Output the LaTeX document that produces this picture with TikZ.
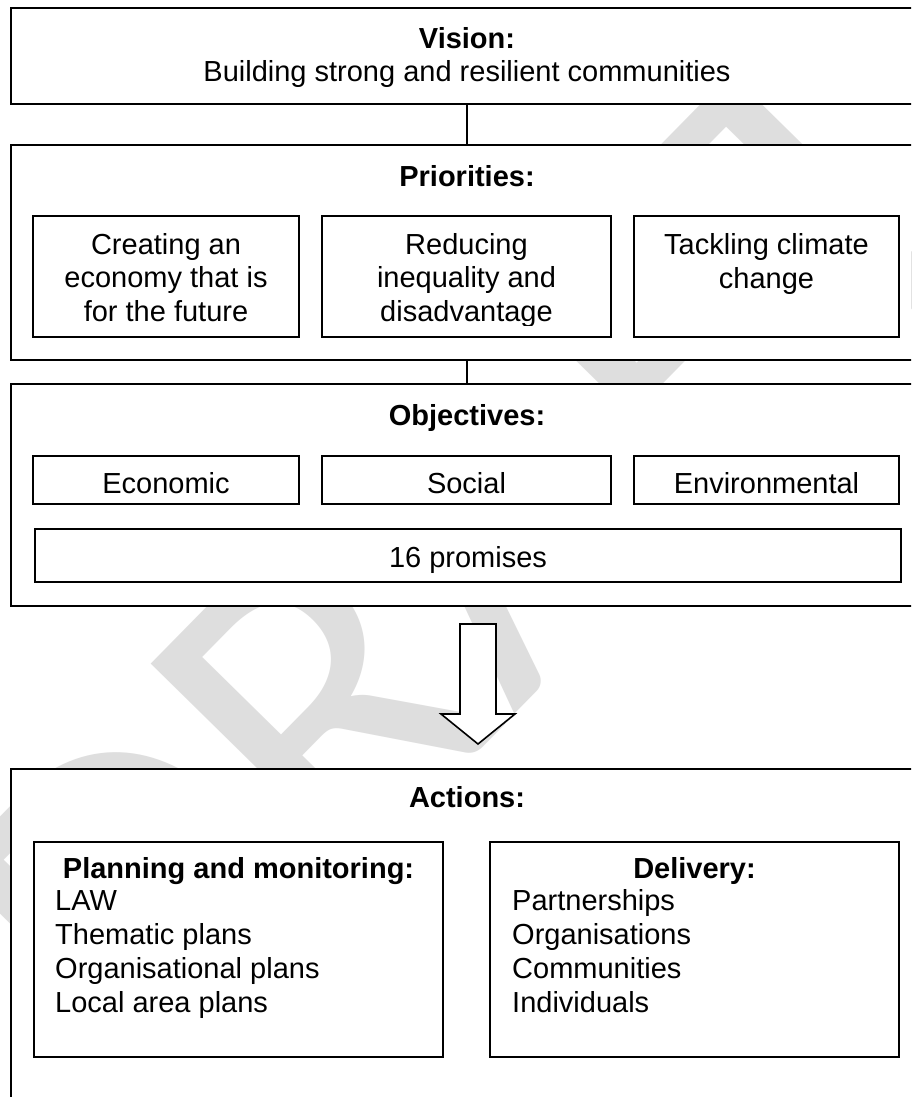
\documentclass[tikz,border=0pt]{standalone}
\usepackage{fontspec}
\setmainfont{Liberation Sans}
\newfontfamily\wmfont{Carlito}
\begin{document}
\begin{tikzpicture}[x=1pt,y=-1pt,
  frame/.style={draw=black, fill=white, line width=1.8pt, inner sep=0pt, anchor=north west},
  inbox/.style={draw=black, fill=white, line width=1.8pt, inner sep=0pt},
  txt/.style={font=\fontsize{29}{33.5}\selectfont, inner sep=0pt, align=center, anchor=base},
  btxt/.style={font=\fontsize{29}{33.5}\selectfont\bfseries, inner sep=0pt, align=center, anchor=base},
  ltxt/.style={font=\fontsize{29}{34}\selectfont, inner sep=0pt, align=left, anchor=base west},
  link/.style={draw=black, line width=1.4pt},
  bigarrow/.style={draw=black, fill=white, line width=1.6pt, line join=miter},
  wm/.style={font=\wmfont\fontsize{460}{460}\selectfont, text=black!13, inner sep=0pt, rotate=45.5, anchor=base west}
]
\useasboundingbox (0,0) rectangle (911,1097);
\clip (0,0) rectangle (911,1097);
\fill[white] (0,0) rectangle (911,1097);

% watermark
\node[wm] (wmark) at (140,1096) {DRAFT};

% outer frames
\node[frame, minimum width=914, minimum height=96] (vision) at (10,7) {};
\node[frame, minimum width=914, minimum height=215] (prio) at (10,144) {};
\node[frame, minimum width=914, minimum height=222] (obj) at (10,383) {};
\node[frame, minimum width=914, minimum height=362] (act) at (10,768) {};

% connectors
\coordinate (cx) at (467,0);
\draw[link] (vision.south -| cx) -- (prio.north -| cx);
\draw[link] (prio.south -| cx) -- (obj.north -| cx);

% vision text (anchor = baseline of last line)
\node[txt] (visiontxt) at (467,82) {\textbf{Vision:}\\Building strong and resilient communities};

% priorities
\node[btxt] (priotitle) at (467,186) {Priorities:};
\node[inbox, minimum width=266, minimum height=121] (p1) at (166,276.5) {};
\node[inbox, minimum width=289, minimum height=121] (p2) at (466.5,276.5) {};
\node[inbox, minimum width=265, minimum height=121] (p3) at (766.5,276.5) {};
\node[txt] (p1txt) at (166,321) {Creating an\\economy that is\\for the future};
\begin{scope}
\clip (p2.north west) rectangle (611,325);
\node[txt] (p2txt) at (466.5,321) {Reducing\\inequality and\\disadvantage};
\end{scope}
\node[txt] (p3txt) at (766.5,288) {Tackling climate\\change};

% objectives
\node[btxt] (objtitle) at (467,425) {Objectives:};
\node[inbox, minimum width=266, minimum height=48] (o1) at (166,480) {};
\node[inbox, minimum width=289, minimum height=48] (o2) at (466.5,480) {};
\node[inbox, minimum width=265, minimum height=48] (o3) at (766.5,480) {};
\node[txt] (o1txt) at (166,493) {Economic};
\node[txt] (o2txt) at (466.5,493) {Social};
\node[txt] (o3txt) at (766.5,493) {Environmental};
\node[inbox, minimum width=866, minimum height=53] (prom) at (468,555.5) {};
\node[txt] (promtxt) at (468,567) {16 promises};

% big arrow
\coordinate (atop) at (478,624);
\draw[bigarrow] (atop) ++(-18,0) -- ++(36,0) -- ++(0,90) -- ++(19,0) -- ++(-37,30) -- ++(-37,-30) -- ++(19,0) -- cycle;

% actions
\node[btxt] (acttitle) at (467,807) {Actions:};
\node[inbox, minimum width=409, minimum height=215] (plan) at (238.5,949.5) {};
\node[inbox, minimum width=409, minimum height=215] (deliv) at (694.5,949.5) {};
\node[btxt] (plantitle) at (238.5,878) {Planning and monitoring:};
\node[btxt] (delivtitle) at (694.5,878) {Delivery:};
\node[ltxt] (planlist) at (55,1012) {LAW\\Thematic plans\\Organisational plans\\Local area plans};
\node[ltxt] (delivlist) at (512,1012) {Partnerships\\Organisations\\Communities\\Individuals};
\end{tikzpicture}
\end{document}
